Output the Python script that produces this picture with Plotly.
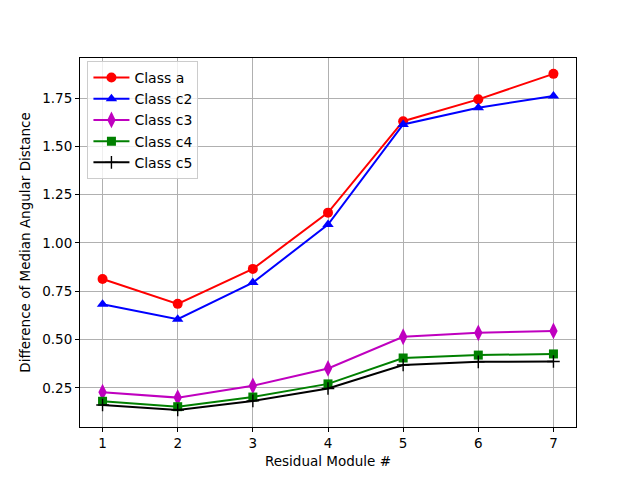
import plotly.graph_objects as go

modules = [1, 2, 3, 4, 5, 6, 7]
class_a = [0.814, 0.685, 0.866, 1.157, 1.630, 1.743, 1.875]
class_c2 = [0.683, 0.606, 0.795, 1.095, 1.613, 1.700, 1.760]
class_c3 = [0.228, 0.200, 0.261, 0.351, 0.515, 0.535, 0.545]
class_c4 = [0.181, 0.153, 0.203, 0.271, 0.405, 0.420, 0.426]
class_c5 = [0.162, 0.136, 0.183, 0.247, 0.369, 0.385, 0.387]

series = [
    ("Class a", class_a, "#ff0000", "circle", 10),
    ("Class c2", class_c2, "#0000ff", "triangle-up", 10),
    ("Class c3", class_c3, "#bf00bf", "diamond-tall", 12),
    ("Class c4", class_c4, "#008000", "square", 9),
    ("Class c5", class_c5, "#000000", "cross-thin", 9),
]

fig = go.Figure()
for name, vals, color, sym, size in series:
    fig.add_trace(go.Scatter(
        x=modules, y=vals, name=name, mode="lines+markers",
        line=dict(color=color, width=2),
        marker=dict(symbol=sym, size=size, color=color,
                    line=dict(color=color, width=1.4 if sym == "cross-thin" else 0)),
    ))

axis_common = dict(
    showline=True, linecolor="black", linewidth=1, mirror=True,
    ticks="outside", ticklen=4, tickcolor="black",
    showgrid=True, gridcolor="#b0b0b0", gridwidth=1, zeroline=False,
    tickfont=dict(size=13.5, color="black"), automargin=False,
)

fig.update_layout(
    width=640, height=480,
    margin=dict(l=72, r=72, t=50, b=61),
    paper_bgcolor="white", plot_bgcolor="white",
    font=dict(family="DejaVu Sans", size=13.5, color="black"),
    showlegend=True,
    legend=dict(x=0.015, y=0.992, xanchor="left", yanchor="top",
                bordercolor="#cccccc", borderwidth=1,
                bgcolor="rgba(255,255,255,0.8)", font=dict(size=14),
                tracegroupgap=0, itemwidth=36),
    xaxis=dict(range=[0.7, 7.3], tickvals=modules,
               title=dict(text="Residual Module #", font=dict(size=13.5), standoff=6),
               **axis_common),
    yaxis=dict(range=[0.048, 1.957], tickvals=[0.25, 0.5, 0.75, 1.0, 1.25, 1.5, 1.75],
               ticktext=["0.25", "0.50", "0.75", "1.00", "1.25", "1.50", "1.75"],
               title=dict(text="Difference of Median Angular Distance", font=dict(size=13.5), standoff=8),
               **axis_common),
)

fig.write_html("out.html")
